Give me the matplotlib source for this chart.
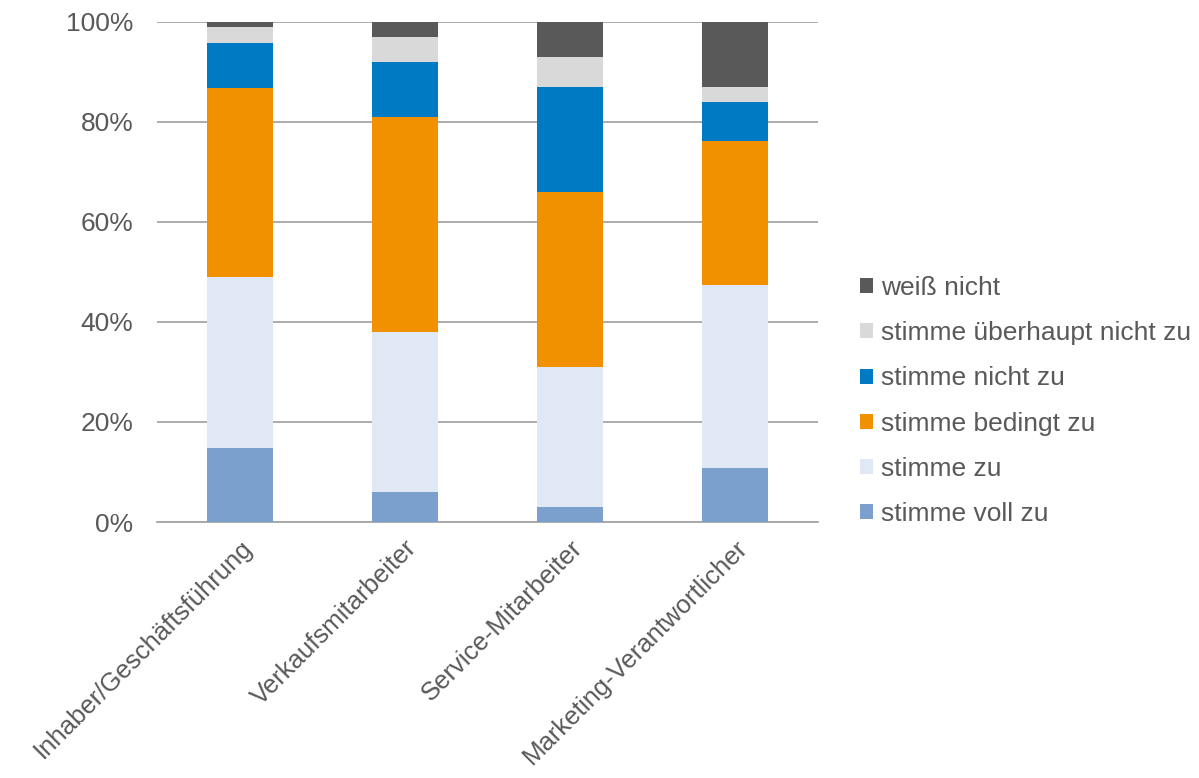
import matplotlib
matplotlib.use("Agg")
from matplotlib import pyplot as plt
import numpy as np

plt.rcParams['font.family'] = ['Liberation Sans', 'DejaVu Sans']

gruppen = ['Inhaber/Geschäftsführung', 'Verkaufsmitarbeiter', 'Service-Mitarbeiter',
           'Marketing-Verantwortlicher']

# Anteile in Prozent, von unten nach oben gestapelt
voll_zu = [14.8, 6.0, 3.0, 10.9]
zu = [34.2, 32.0, 28.0, 36.5]
bedingt_zu = [37.8, 43.0, 35.0, 28.8]
nicht_zu = [9.0, 11.0, 21.0, 7.7]
ueberhaupt_nicht = [3.1, 5.0, 6.0, 3.1]
weiss_nicht = [1.1, 3.0, 7.0, 13.0]

serien = [
    ('stimme voll zu', voll_zu, '#7ba0cd'),
    ('stimme zu', zu, '#e1e8f5'),
    ('stimme bedingt zu', bedingt_zu, '#f29100'),
    ('stimme nicht zu', nicht_zu, '#007ac2'),
    ('stimme überhaupt nicht zu', ueberhaupt_nicht, '#d9d9d9'),
    ('weiß nicht', weiss_nicht, '#595959'),
]

fig = plt.figure(figsize=(11.99, 7.78), dpi=100)
ax = fig.add_axes([0.131, 0.329, 0.551, 0.643])

x = np.arange(len(gruppen))
unten = np.zeros(len(gruppen))
for name, werte, farbe in serien:
    ax.bar(x, werte, 0.4, bottom=unten, color=farbe, label=name, zorder=3)
    unten += np.array(werte)

ax.set_xlim(-0.5, len(gruppen) - 0.5)
ax.set_ylim(0, 100)
ax.set_yticks([0, 20, 40, 60, 80, 100])
ax.set_yticklabels([f'{v}%' for v in [0, 20, 40, 60, 80, 100]])
ax.yaxis.grid(True, color='#a6a6a6', linewidth=1.3, zorder=0)
for s in ['left', 'right', 'top']:
    ax.spines[s].set_visible(False)
ax.spines['bottom'].set_color('#a6a6a6')
ax.spines['bottom'].set_linewidth(1.3)
ax.tick_params(axis='both', length=0, colors='#595959', labelsize=19)
ax.tick_params(axis='y', pad=17)
ax.set_xticks(x)
ax.set_xticklabels(gruppen, rotation=45, ha='right', rotation_mode='anchor', fontsize=18.5)
ax.tick_params(axis='x', pad=10)

handles, labels = ax.get_legend_handles_labels()
fig.legend(handles[::-1], labels[::-1], loc='center left',
           bbox_to_anchor=(860 / 1199, 1 - 401 / 778), bbox_transform=fig.transFigure,
           frameon=False, fontsize=19, labelcolor='#595959', handlelength=0.5,
           handleheight=0.5, handletextpad=0.3, labelspacing=0.8,
           borderpad=0, borderaxespad=0)

fig.savefig('out.png', dpi=100)
